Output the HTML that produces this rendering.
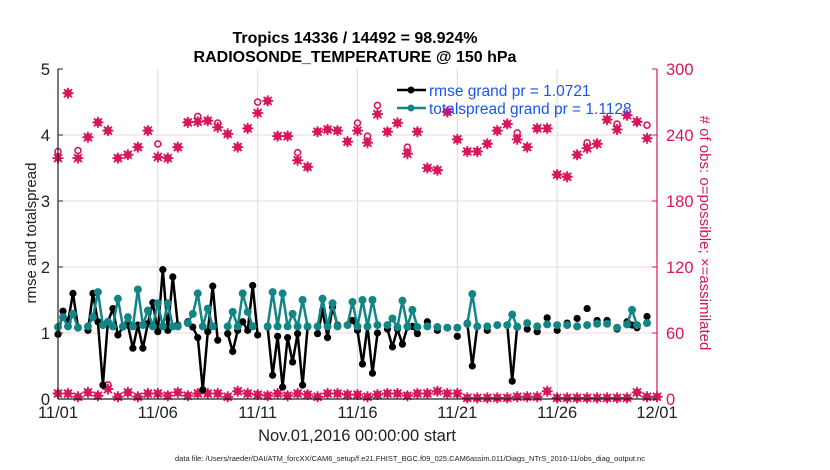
<!DOCTYPE html>
<html><head><meta charset="utf-8"><style>
html,body{margin:0;padding:0;background:#fff;}
svg{display:block;font-family:"Liberation Sans",Arial,sans-serif;}
</style></head><body>
<svg id="chart" width="830" height="470" viewBox="0 0 830 470" xmlns="http://www.w3.org/2000/svg">
<g id="grid"></g>
<g id="series"></g>
<g id="axes"></g>
<text x="355" y="43" text-anchor="middle" font-size="16" font-weight="bold">Tropics 14336 / 14492 = 98.924%</text>
<text x="355" y="62" text-anchor="middle" font-size="16" font-weight="bold">RADIOSONDE_TEMPERATURE @ 150 hPa</text>
<text x="357" y="441" text-anchor="middle" font-size="16.5" fill="#222">Nov.01,2016 00:00:00 start</text>
<text x="410" y="461" text-anchor="middle" font-size="7.5" fill="#222">data file: /Users/raeder/DAI/ATM_forcXX/CAM6_setup/f.e21.FHIST_BGC.f09_025.CAM6assim.011/Diags_NTrS_2016-11/obs_diag_output.nc</text>
<text transform="translate(36,233) rotate(-90)" text-anchor="middle" font-size="15" fill="#222">rmse and totalspread</text>
<text transform="translate(700,233) rotate(90)" text-anchor="middle" font-size="15" fill="#d6175c"># of obs: o=possible; ×=assimilated</text>
<g>
<line x1="397" y1="90" x2="426" y2="90" stroke="#000" stroke-width="2.5"/>
<circle cx="411" cy="90" r="3.5" fill="#000"/>
<text x="429" y="96" font-size="15.5" fill="#1a55f0">rmse grand pr = 1.0721</text>
<line x1="397" y1="108" x2="426" y2="108" stroke="#138585" stroke-width="2.5"/>
<circle cx="411" cy="108" r="3.5" fill="#138585"/>
<text x="429" y="114" font-size="15.5" fill="#1a55f0">totalspread grand pr = 1.1128</text>
</g>
</svg>
<script>
const N=null;
const rmse=[.98,1.33,1.17,1.60,1.09,N,1.04,1.60,1.17,.21,1.17,1.37,.97,1.09,1.12,.77,1.12,.77,1.14,1.46,1.02,1.96,1.04,1.85,1.12,N,1.17,1.09,.93,.14,1.02,1.71,.89,N,.99,.72,1.04,1.17,1.04,1.72,.97,N,1.09,.36,.95,.18,.93,.56,.99,.21,1.09,N,.99,1.34,.93,1.39,1.12,N,1.12,1.19,1.04,.53,1.1,.39,1.0,N,1.06,.79,1.06,.83,1.09,1.1,.99,N,1.17,N,1.04,N,1.08,N,.95,N,1.15,.50,1.10,N,1.04,N,1.12,N,1.12,.27,1.10,N,1.06,N,1.02,N,1.23,N,1.04,N,1.15,N,1.22,N,1.37,N,1.19,N,1.19,N,1.06,N,1.17,1.12,1.08,N,1.25,N];
const spread=[1.09,1.24,1.10,1.29,1.08,N,1.10,1.24,1.62,1.12,1.17,1.10,1.52,1.10,1.24,1.10,1.66,1.12,1.34,1.10,1.45,1.10,1.45,1.10,1.10,N,1.15,1.29,1.60,1.10,1.37,1.10,N,N,1.10,1.32,1.10,1.60,1.32,1.10,N,N,1.10,1.62,1.10,1.60,1.10,1.29,1.10,1.50,1.10,N,1.10,1.52,1.10,1.45,1.10,N,1.12,1.47,1.10,1.50,1.10,1.50,1.12,N,1.12,1.22,1.09,1.49,1.10,1.35,1.09,N,1.10,N,1.09,N,1.08,N,1.08,N,1.14,1.59,1.10,N,1.10,N,1.12,N,1.12,1.28,1.09,N,1.15,N,1.10,N,1.13,N,1.12,N,1.12,N,1.10,N,1.12,N,1.14,N,1.14,N,1.08,N,1.13,1.35,1.12,N,1.15,N];
const obsAssimTop=[219,278,219,238,251.5,244,219,222,229,244,220,219,229,251.5,252,253,247,241,229,246,260,271,239,239,217,211,243,245,244,234,244,233,259,243,251,223,243,210,208,261,236,225,225,232,244,250,236,229,246,246,204,202,222,228,232,254,245,258,252,237];
const obsPossTop=[224,278,225,238,251.5,244,219,222,229,244,231,219,229,251.5,256,253,250,241,229,246,269,271,239,239,223,211,243,245,244,234,250,238,266,243,251,228,243,210,208,261,236,225,225,232,244,250,241,229,246,246,204,202,222,232,232,254,249,258,252,248];
const obsAssimLow=[5,5,2,6,3,9,2,6,2,5,5,3,6,3,5,5,5,2,7,5,4,3,5,3,5,4,2,5,5,4,4,2,4,5,5,3,5,5,7,5,5,1,1,1,1,1,2,2,2,7,1,1,1,1,1,1,1,1,6,2,2];
const obsPossLow=[5,5,2,6,3,12,2,6,2,5,5,3,6,3,5,5,5,2,7,5,4,3,5,3,5,4,2,5,5,4,4,2,4,5,5,3,5,5,7,5,5,1,1,1,1,1,2,2,2,7,1,1,1,1,1,1,1,1,6,2,2];
const xTickLabels=["11/01","11/06","11/11","11/16","11/21","11/26","12/01"];
const yLeftTicks=[0,1,2,3,4,5];
const yRightTicks=[0,60,120,180,240,300];

const X0=58,X1=657,Y0=399,YT=69,DAYS=30;
const PINK="#d6175c",TEAL="#138585";
const xs=t=>X0+t*(X1-X0)/DAYS;
const yL=v=>Y0-v*(Y0-YT)/5;
const yR=v=>Y0-v*(Y0-YT)/300;
const NS="http://www.w3.org/2000/svg";
function mk(tag,attrs,parent){const e=document.createElementNS(NS,tag);for(const k in attrs)e.setAttribute(k,attrs[k]);parent.appendChild(e);return e;}
const grid=document.getElementById('grid'),ser=document.getElementById('series'),ax=document.getElementById('axes');

xTickLabels.forEach((l,i)=>{const x=xs(i*5);
 if(i>0&&i<6){const g=mk('line',{x1:x,x2:x,y1:YT,y2:Y0,stroke:'#ddd','stroke-width':1},grid);
 
 }
 const t=mk('text',{x:x,y:Y0+19,'text-anchor':'middle','font-size':16.5,fill:'#222'},ax);t.textContent=l;
 
 
 mk('line',{x1:x,x2:x,y1:Y0,y2:Y0-5,stroke:'#222'},ax);
});
yLeftTicks.forEach(v=>{const y=yL(v);
 if(v>0&&v<5){const g=mk('line',{x1:X0,x2:X1,y1:y,y2:y,stroke:'#f0d6e0','stroke-width':1},grid);
 
 }
 const t=mk('text',{x:X0-8,y:y+6,'text-anchor':'end','font-size':16.5,fill:'#222'},ax);t.textContent=v;
 
 
 mk('line',{x1:X0,x2:X0+5,y1:y,y2:y,stroke:'#222'},ax);
});
yRightTicks.forEach(v=>{const y=yR(v);
 const t=mk('text',{x:X1+9,y:y+6,'font-size':16.5,fill:PINK},ax);t.textContent=v;
 
 
 mk('line',{x1:X1-5,x2:X1,y1:y,y2:y,stroke:PINK},ax);
});
mk('line',{x1:X0,x2:X0,y1:YT,y2:Y0,stroke:'#222','stroke-width':1.2},ax);
mk('line',{x1:X0,x2:X1,y1:Y0,y2:Y0,stroke:'#222','stroke-width':1.2},ax);
mk('line',{x1:X1,x2:X1,y1:YT,y2:Y0,stroke:PINK,'stroke-width':1.2},ax);

function drawSeries(arr,color,name,r){
 const g=mk('g',{},ser);
 
 
 let d='',pen=false;
 arr.forEach((v,j)=>{if(v===null){pen=false;return;}
  const x=xs(j/4),y=yL(v);
  d+=(pen?'L':'M')+x.toFixed(1)+' '+y.toFixed(1);pen=true;});
 mk('path',{d:d,fill:'none',stroke:color,'stroke-width':2.5,'stroke-linejoin':'round'},g);
 arr.forEach((v,j)=>{if(v===null)return;
  const c=mk('circle',{cx:xs(j/4),cy:yL(v),r:r,fill:color},g);
  
  });
}
function star(x,y,g){
 mk('circle',{cx:x,cy:y,r:3.5,fill:PINK},g);
 mk('path',{d:`M${x-5.5} ${y}H${x+5.5}M${x} ${y-5.5}V${y+5.5}M${x-4} ${y-4}L${x+4} ${y+4}M${x-4} ${y+4}L${x+4} ${y-4}`,stroke:PINK,'stroke-width':1.8},g);
}
function drawObs(poss,assim,name){
 const g=mk('g',{},ser);
 
 
 poss.forEach((v,k)=>{
  const same=Math.abs(v-assim[k])<1;
  const c=mk('circle',{cx:xs(k/2),cy:same?yR(v):yR(v)-1,r:3,fill:'none',stroke:PINK,'stroke-width':1.6},g);
  
  });
 assim.forEach((v,k)=>star(xs(k/2),yR(v),g));
}
drawObs(obsPossTop,obsAssimTop,'obs-count-top');
drawObs(obsPossLow,obsAssimLow,'obs-count-low');
drawSeries(rmse,'#000','rmse-series',3.6);
drawSeries(spread,TEAL,'totalspread-series',4);
</script>
</body></html>
